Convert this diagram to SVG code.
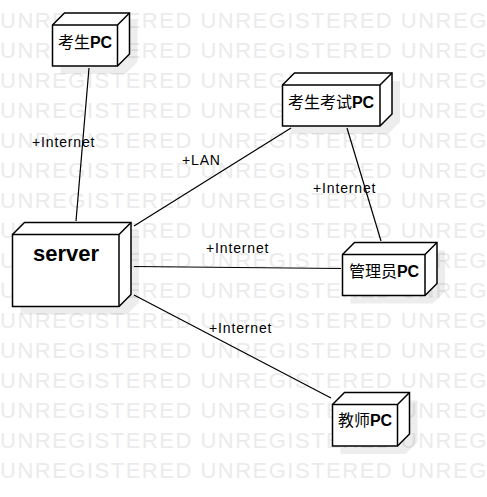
<svg xmlns="http://www.w3.org/2000/svg" width="487" height="497" viewBox="0 0 487 497">
<style>
.wm{font-family:"Liberation Sans",Arial,sans-serif;font-size:22px;letter-spacing:1.5px;fill:#ebebeb}
.shadow{fill:#000;fill-opacity:0.07;stroke:none}
.box{fill:#fff;stroke:#000;stroke-width:1.5;stroke-linejoin:miter}
.edge{fill:none;stroke:#000;stroke-width:1.5}
.lbl{font-family:"Liberation Sans","Noto Sans CJK SC",sans-serif;font-size:16px;fill:#000;text-anchor:middle}
.b{font-weight:bold}
.conn line{stroke:#000;stroke-width:1.2}
.clbl{font-family:"Liberation Sans",Arial,sans-serif;font-size:14px;letter-spacing:0.85px;fill:#000}
</style>
<rect width="487" height="497" fill="#fff"/>
<g id="watermark" class="wm">
<text x="0" y="28">UNREGISTERED UNREGISTERED UNREG</text>
<text x="0" y="58">UNREGISTERED UNREGISTERED UNREG</text>
<text x="0" y="88">UNREGISTERED UNREGISTERED UNREG</text>
<text x="0" y="118">UNREGISTERED UNREGISTERED UNREG</text>
<text x="0" y="148">UNREGISTERED UNREGISTERED UNREG</text>
<text x="0" y="178">UNREGISTERED UNREGISTERED UNREG</text>
<text x="0" y="208">UNREGISTERED UNREGISTERED UNREG</text>
<text x="0" y="238">UNREGISTERED UNREGISTERED UNREG</text>
<text x="0" y="268">UNREGISTERED UNREGISTERED UNREG</text>
<text x="0" y="298">UNREGISTERED UNREGISTERED UNREG</text>
<text x="0" y="328">UNREGISTERED UNREGISTERED UNREG</text>
<text x="0" y="358">UNREGISTERED UNREGISTERED UNREG</text>
<text x="0" y="388">UNREGISTERED UNREGISTERED UNREG</text>
<text x="0" y="418">UNREGISTERED UNREGISTERED UNREG</text>
<text x="0" y="448">UNREGISTERED UNREGISTERED UNREG</text>
<text x="0" y="478">UNREGISTERED UNREGISTERED UNREG</text>
</g>
<g id="connectors" class="conn">
<line x1="89" y1="68" x2="76" y2="221"/>
<line x1="134" y1="226" x2="291" y2="128"/>
<line x1="347" y1="128" x2="381" y2="241"/>
<line x1="134" y1="266.5" x2="341" y2="268.5"/>
<line x1="134" y1="295" x2="331" y2="398"/>
<text class="clbl" x="32" y="146.5">+Internet</text>
<text class="clbl" x="182" y="165">+LAN</text>
<text class="clbl" x="313" y="193">+Internet</text>
<text class="clbl" x="206" y="252.5">+Internet</text>
<text class="clbl" x="209" y="333">+Internet</text>
</g>
<g id="node-kaoshengpc">
<path class="shadow" d="M60.5,33 l12,-12 h65 v41 l-12,12 h-65 z"/>
<path class="box" d="M52.5,25 l12,-12 h65 v41 l-12,12 h-65 z"/>
<path class="edge" d="M52.5,25 h65 l12,-12 M117.5,25 v41"/>
<text class="lbl" x="85" y="47.7">考生<tspan class="b">PC</tspan></text>
</g>
<g id="node-kaoshipc">
<path class="shadow" d="M290.5,93 l12,-12 h97.5 v41 l-12,12 h-97.5 z"/>
<path class="box" d="M282.5,85 l12,-12 h97.5 v41 l-12,12 h-97.5 z"/>
<path class="edge" d="M282.5,85 h97.5 l12,-12 M380,85 v41"/>
<text class="lbl" x="331" y="107.7">考生考试<tspan class="b">PC</tspan></text>
</g>
<g id="node-server">
<path class="shadow" d="M20.5,242.5 l12,-12 h106.5 v72 l-12,12 h-106.5 z"/>
<path class="box" d="M12.5,234.5 l12,-12 h106.5 v72 l-12,12 h-106.5 z"/>
<path class="edge" d="M12.5,234.5 h106.5 l12,-12 M119,234.5 v72"/>
<text class="lbl b" x="66" y="261" style="font-size:22px">server</text>
</g>
<g id="node-guanlipc">
<path class="shadow" d="M350.5,262.5 l12,-12 h82.5 v41 l-12,12 h-82.5 z"/>
<path class="box" d="M342.5,254.5 l12,-12 h82.5 v41 l-12,12 h-82.5 z"/>
<path class="edge" d="M342.5,254.5 h82.5 l12,-12 M425,254.5 v41"/>
<text class="lbl" x="384" y="276.7">管理员<tspan class="b">PC</tspan></text>
</g>
<g id="node-jiaoshipc">
<path class="shadow" d="M340.5,412.5 l12,-12 h65 v41.5 l-12,12 h-65 z"/>
<path class="box" d="M332.5,404.5 l12,-12 h65 v41.5 l-12,12 h-65 z"/>
<path class="edge" d="M332.5,404.5 h65 l12,-12 M397.5,404.5 v41.5"/>
<text class="lbl" x="365" y="426">教师<tspan class="b">PC</tspan></text>
</g>
</svg>
